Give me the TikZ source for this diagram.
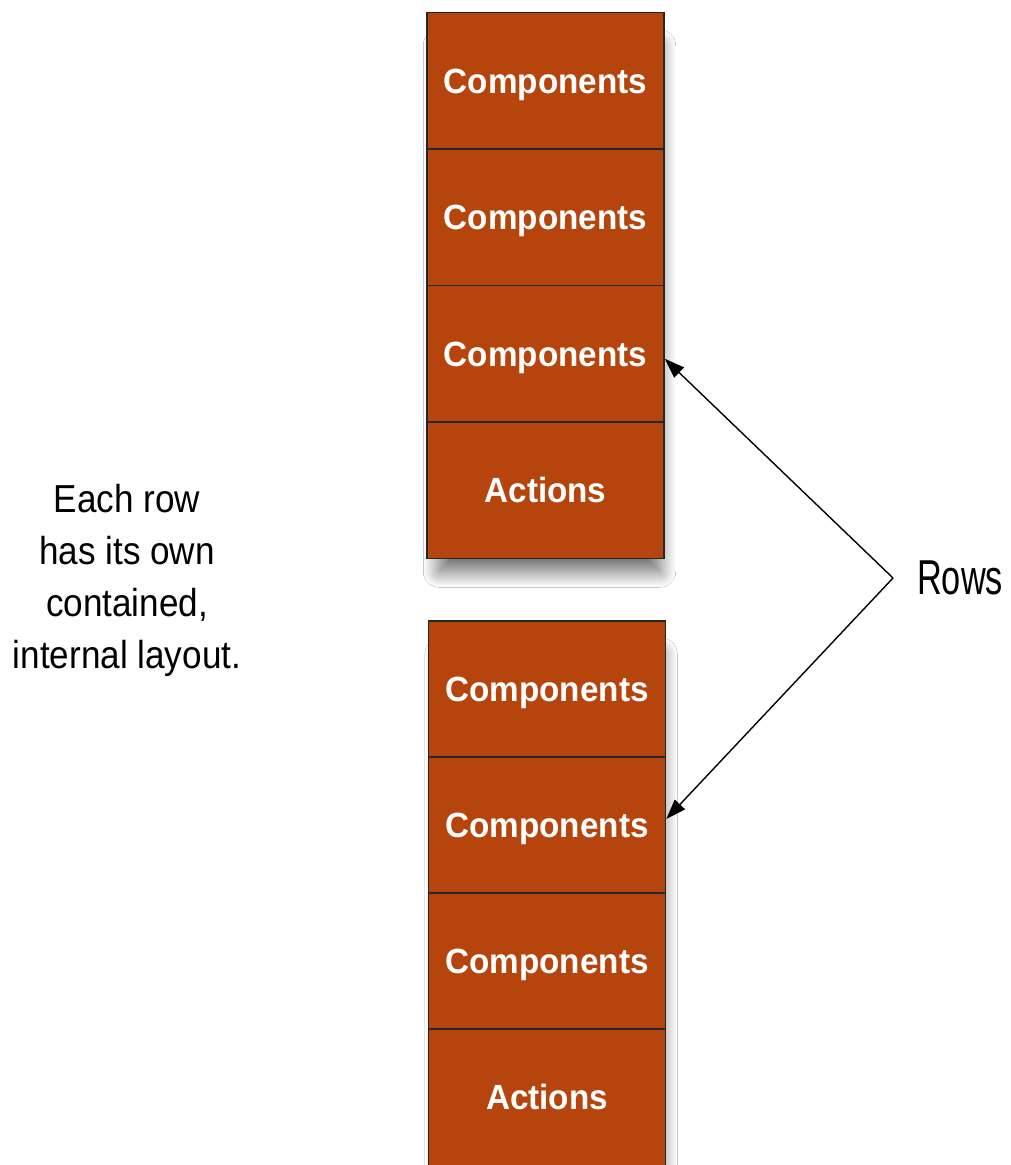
\documentclass[tikz,border=0pt]{standalone}
\usepackage{fontspec}
\setmainfont{Liberation Sans}
\newfontfamily\cellfont[FakeStretch=0.95]{Liberation Sans Bold}
\newfontfamily\notefont[FakeStretch=0.9]{Liberation Sans}
\newfontfamily\rowsfont[FakeStretch=0.7]{Liberation Sans}
\usetikzlibrary{arrows.meta, shadows.blur, backgrounds}
\definecolor{cellfill}{HTML}{B5450D}

\begin{document}
\begin{tikzpicture}[
    x=1pt, y=-1pt,
    cell/.style={rectangle, draw=black!85, line width=1.5pt, fill=cellfill,
      minimum width=237pt, minimum height=136.5pt, inner sep=0pt,
      text height=25pt, text depth=0pt,
      text=white, font=\cellfont\fontsize{35}{40}\selectfont},
    stackshadow/.style={fill=cellfill, blur shadow={shadow xshift=1pt,
      shadow yshift=-12pt, shadow blur radius=16pt, shadow blur steps=24,
      shadow opacity=60}},
    note/.style={align=center, inner sep=0pt,
      font=\notefont\fontsize{39}{52}\selectfont},
    arrow/.style={-{Triangle[length=20pt, width=14pt]}, line width=1.4pt},
  ]
  \useasboundingbox (0,0) rectangle (1010,1165);

  % upper row
  \node[cell] (tc1) at (545.5,80.75)  {Components};
  \node[cell] (tc2) at (545.5,217.25) {Components};
  \node[cell] (tc3) at (545.5,353.75) {Components};
  \node[cell] (tc4) at (545.5,490.25) {Actions};

  % lower row (runs off the bottom edge)
  \node[cell] (bc1) at (547,689)  {Components};
  \node[cell] (bc2) at (547,825)  {Components};
  \node[cell] (bc3) at (547,961)  {Components};
  \node[cell, minimum height=160pt, text depth=24pt] (bc4) at (547,1109) {Actions};

  \begin{scope}[on background layer]
    \fill[white] (0,0) rectangle (1010,1165);
    \path[stackshadow] ([shift={(12pt,-22pt)}]tc1.north west) rectangle ([xshift=-6pt]tc4.south east);
    \path[stackshadow] ([shift={(12pt,-22pt)}]bc1.north west) rectangle ([xshift=-6pt]bc4.south east);
  \end{scope}

  \node[note] (note) at (127,580) {Each row\\has its own\\contained,\\internal layout.};

  \coordinate (apex) at (893,578);
  \node[anchor=west, inner sep=0pt, font=\rowsfont\fontsize{49}{50}\selectfont]
    (rows) at (917,578) {Rows};

  \draw[arrow] (apex) -- ([yshift=-5pt]tc3.east);
  \draw[arrow] (apex) -- ([yshift=6pt]bc2.east);
\end{tikzpicture}
\end{document}
